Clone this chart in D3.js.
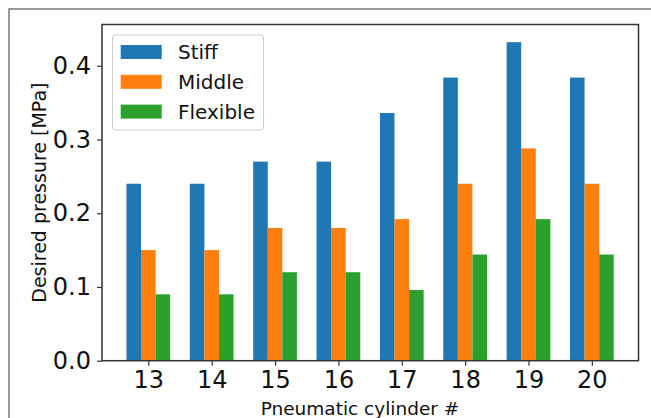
<!DOCTYPE html>
<html>
  <head>
    <meta charset="utf-8"/>
    <title>Desired pressure per cylinder</title>
    <style type="text/css">
body {
  margin: 0;
  background: #fff;
}
svg {
  display: block;
  font-family: "DejaVu Sans", sans-serif;
}
    </style>
  </head>
  <body>
    <div id="chart"></div>
    <script src="https://cdn.jsdelivr.net/npm/d3@7"></script>
    <script>
    const cylinders = [13, 14, 15, 16, 17, 18, 19, 20];
    const stiff = [0.24, 0.24, 0.27, 0.27, 0.336, 0.384, 0.432, 0.384];
    const middle = [0.15, 0.15, 0.18, 0.18, 0.192, 0.24, 0.288, 0.24];
    const flexible = [0.09, 0.09, 0.12, 0.12, 0.096, 0.144, 0.192, 0.144];
    const seriesNames = ["Stiff", "Middle", "Flexible"];
    const yTicks = [0.0, 0.1, 0.2, 0.3, 0.4];

    const series = [stiff, middle, flexible];
    const colors = ["#1f77b4", "#ff7f0e", "#2ca02c"];
    const barW = 0.23;

    const width = 651, height = 418;
    const plotL = 102, plotR = 638.5, plotT = 24.5, plotB = 360.7;

    const svg = d3.select("#chart").append("svg")
        .attr("width", width)
        .attr("height", height);

    // outer frame (top and left only, picture is cropped)
    svg.append("path")
       .attr("d", "M9,418V9H651")
       .style("fill", "none")
       .style("stroke", "#777")
       .style("stroke-width", 1.5);

    const x = d3.scaleLinear()
        .domain([12.269, 20.736])
        .range([plotL, plotR]);
    const y = d3.scaleLinear()
        .domain([0, 0.456])
        .range([plotB, plotT]);

    const g = svg.append("g");

    series.forEach(function(vals, i) {
      g.selectAll(".bar" + i)
          .data(vals)
          .enter()
          .append("rect")
          .attr("x", (d, j) => x(cylinders[j] + (i - 1) * barW - barW / 2))
          .attr("width", x(barW) - x(0))
          .attr("y", d => y(d))
          .attr("height", d => y(0) - y(d))
          .style("fill", colors[i]);
    });

    const xAxis = svg.append("g")
        .attr("transform", "translate(0," + plotB + ")")
        .call(d3.axisBottom(x).tickValues(cylinders).tickSize(5).tickPadding(5).tickFormat(d3.format("d")));
    const yAxis = svg.append("g")
        .attr("transform", "translate(" + plotL + ",0)")
        .call(d3.axisLeft(y).tickValues(yTicks).tickSize(5).tickPadding(6).tickFormat(d3.format(".1f")));

    [xAxis, yAxis].forEach(function(a) {
      a.select(".domain").remove();
      a.selectAll("line").style("stroke", "#333").style("stroke-width", 1.2);
      a.selectAll("text")
       .style("font-family", "DejaVu Sans")
       .style("font-size", "24px")
       .style("fill", "#111");
    });

    svg.append("rect")
       .attr("x", plotL)
       .attr("y", plotT)
       .attr("width", plotR - plotL)
       .attr("height", plotB - plotT)
       .style("fill", "none")
       .style("stroke", "#333")
       .style("stroke-width", 1.5);

    svg.append("text")
       .attr("x", 360)
       .attr("y", 415)
       .attr("text-anchor", "middle")
       .style("font-size", "18.5px")
       .style("fill", "#111")
       .text("Pneumatic cylinder #");

    svg.append("text")
       .attr("transform", "translate(46," + (plotT + plotB) / 2 + ") rotate(-90)")
       .attr("text-anchor", "middle")
       .style("font-size", "19px")
       .style("fill", "#111")
       .text("Desired pressure [MPa]");

    // legend
    const legend = svg.append("g");
    legend.append("rect")
       .attr("x", 112.5)
       .attr("y", 35)
       .attr("width", 151)
       .attr("height", 95)
       .attr("rx", 3)
       .style("fill", "#fff")
       .style("fill-opacity", 0.8)
       .style("stroke", "#ccc")
       .style("stroke-width", 1);

    seriesNames.forEach(function(name, i) {
      const cy = 52 + i * 29.8;
      legend.append("rect")
         .attr("x", 120.7)
         .attr("y", cy - 7)
         .attr("width", 41)
         .attr("height", 14)
         .style("fill", colors[i]);
      legend.append("text")
         .attr("x", 178)
         .attr("y", cy)
         .attr("dy", "0.36em")
         .style("font-size", "20px")
         .style("fill", "#111")
         .text(name);
    });
    </script>
  </body>
</html>
